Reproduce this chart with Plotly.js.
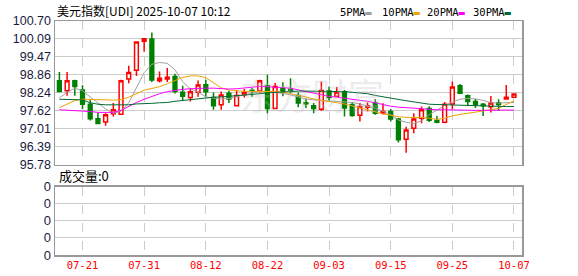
<!DOCTYPE html>
<html><head><meta charset="utf-8">
<script src="https://cdn.plot.ly/plotly-3.0.1.min.js"></script>
<style>html,body{margin:0;padding:0;background:#fff}#chart{width:578px;height:276px}</style>
</head><body><div id="chart"></div>
<script>
const dates = ["07-16","07-17","07-18","07-21","07-22","07-23","07-24","07-25","07-28","07-29","07-30","07-31",
"08-01","08-04","08-05","08-06","08-07","08-08","08-11","08-12",
"08-13","08-14","08-15","08-18","08-19","08-20","08-21","08-22",
"08-25","08-26","08-27","08-28","08-29","09-01","09-02","09-03",
"09-04","09-05","09-08","09-09","09-10","09-11","09-12","09-15",
"09-16","09-17","09-18","09-19","09-22","09-23","09-24","09-25",
"09-26","09-29","09-30","10-01","10-02","10-03","10-06","10-07"];
const openP = [98.65,98.31,98.65,98.34,97.85,97.35,97.24,97.52,97.51,98.71,99.01,100.01,100.08,98.65,98.71,98.80,98.26,98.08,98.26,98.52,
98.08,97.83,98.23,97.80,98.17,98.33,98.30,98.48,97.70,98.40,98.36,98.15,97.90,97.80,97.68,98.30,98.12,98.28,97.83,97.47,
97.75,97.89,97.55,97.60,97.34,96.65,97.03,97.37,97.70,97.29,97.23,97.86,98.48,98.14,97.94,97.85,97.76,97.90,98.03,98.09];
const highP = [98.95,98.95,98.69,98.50,98.00,97.55,97.54,97.89,98.69,99.17,100.00,100.12,100.31,98.97,99.09,98.89,98.48,98.40,98.66,98.69,
98.25,98.29,98.31,98.34,98.37,98.42,98.69,98.86,98.58,98.60,98.74,98.25,98.05,97.89,98.63,98.46,98.44,98.34,97.93,97.89,
97.91,98.02,97.88,97.69,97.38,97.08,97.54,97.77,97.78,97.45,97.93,98.63,98.54,98.18,98.04,97.89,98.13,98.02,98.51,98.21];
const lowP = [98.27,98.14,98.14,97.68,97.29,97.19,97.11,97.43,97.49,98.57,98.82,99.65,98.61,98.59,98.61,98.22,97.96,97.94,98.11,98.11,
97.66,97.66,97.89,97.77,98.08,98.11,98.22,97.54,97.68,98.12,98.22,97.75,97.72,97.54,97.62,97.98,98.10,97.43,97.42,97.26,
97.60,97.49,97.50,97.26,96.54,96.19,96.86,97.20,97.24,97.20,97.20,97.68,98.21,97.80,97.72,97.45,97.57,97.62,98.00,98.08];
const closeP = [98.29,98.65,98.46,97.85,97.35,97.19,97.49,97.66,98.65,98.94,99.98,100.09,98.68,98.74,98.77,98.29,98.12,98.28,98.51,98.28,
97.80,98.17,98.03,98.15,98.25,98.30,98.65,97.70,98.46,98.29,98.33,97.89,97.87,97.70,98.32,98.08,98.26,97.72,97.46,97.77,
97.80,97.54,97.60,97.34,96.63,96.97,97.34,97.66,97.30,97.23,97.85,98.44,98.23,97.94,97.83,97.80,97.89,97.84,98.09,98.20];
const ma5 = [98.07,98.26,98.40,98.31,98.10,97.90,97.69,97.54,97.61,97.90,98.41,98.93,99.22,99.28,99.25,99.03,98.62,98.38,98.26,98.10,
98.06,98.03,98.05,98.10,98.17,98.23,98.28,98.29,98.26,98.22,98.17,98.10,98.03,98.00,97.98,97.97,97.95,97.93,97.91,97.86,
97.79,97.71,97.61,97.49,97.31,97.23,97.19,97.28,97.49,97.66,97.81,97.93,98.02,98.05,98.03,97.98,97.90,97.89,97.90,97.91];
const ma10 = [97.73,97.86,97.98,98.02,98.02,98.02,98.00,97.99,98.00,98.09,98.22,98.33,98.39,98.45,98.55,98.67,98.77,98.82,98.82,98.76,
98.60,98.41,98.34,98.31,98.29,98.28,98.28,98.29,98.29,98.26,98.21,98.15,98.10,98.03,97.98,97.93,97.90,97.86,97.79,97.73,
97.66,97.59,97.52,97.47,97.42,97.40,97.40,97.40,97.37,97.33,97.37,97.45,97.50,97.54,97.57,97.60,97.66,97.71,97.83,97.97];
const ma20 = [97.66,97.65,97.64,97.63,97.60,97.57,97.57,97.57,97.64,97.78,97.91,98.02,98.12,98.21,98.28,98.33,98.36,98.38,98.40,98.40,
98.40,98.38,98.37,98.38,98.41,98.45,98.46,98.45,98.44,98.41,98.40,98.34,98.28,98.22,98.17,98.12,98.09,98.06,98.03,98.00,
97.95,97.90,97.83,97.78,97.75,97.73,97.70,97.68,97.67,97.66,97.66,97.65,97.65,97.64,97.64,97.64,97.65,97.65,97.65,97.65];
const ma30 = [98.02,98.01,98.00,98.00,97.90,97.85,97.83,97.83,97.82,97.83,97.86,97.86,97.88,97.90,97.91,97.95,97.98,98.00,98.03,98.07,
98.09,98.10,98.12,98.14,98.15,98.17,98.21,98.24,98.26,98.28,98.29,98.30,98.30,98.30,98.29,98.29,98.28,98.28,98.26,98.24,
98.21,98.15,98.10,98.05,98.00,97.97,97.93,97.89,97.85,97.84,97.83,97.82,97.81,97.81,97.80,97.79,97.78,97.78,97.77,97.77];
const volume = dates.map(() => 0);
const xTickDates = ["07-21","07-31","08-12","08-22","09-03","09-15","09-25","10-07"];
const priceTicks = [95.78,96.39,97.01,97.62,98.24,98.86,99.47,100.09,100.70];
const volTicks = [0,0.25,0.5,0.75,1];
const volTickText = ["0","0","0","0","0"];
const maNames = ["5PMA","10PMA","20PMA","30PMA"];
const maColors = ["#a0a0a0","#f0a000","#ff00ff","#006a34"];

const lineW = 1;
const maData = [ma5, ma10, ma20, ma30];
const traces = maData.map((arr, i) => ({type:'scatter',mode:'lines',x:dates,y:arr,name:maNames[i],
  line:{color:maColors[i],width:lineW},xaxis:'x',yaxis:'y',hoverinfo:'skip'}));
traces.push({type:'candlestick',x:dates,open:openP,high:highP,low:lowP,close:closeP,xaxis:'x',yaxis:'y',
   increasing:{line:{color:'#ff0000',width:1.5},fillcolor:'#ffffff'},
   decreasing:{line:{color:'#008000',width:1.5},fillcolor:'#008000'},
   hoverinfo:'skip'});
traces.push({type:'bar',x:dates,y:volume,xaxis:'x2',yaxis:'y2',marker:{color:'#008000'},hoverinfo:'skip'});

const axisX = {
  type:'category', range:[-0.57,60.04], tickmode:'array', tickvals:xTickDates,
  showgrid:true, gridcolor:'#cccccc', griddash:'dash', gridwidth:1,
  showline:true, mirror:true, linecolor:'#999999', linewidth:1.5,
  ticks:'', zeroline:false, fixedrange:true
};
const monoFont = '"DejaVu Sans Mono", "Liberation Mono", monospace';
const legendX = [0.606, 0.696, 0.792, 0.891];
const legendAnn = maNames.map((n, i) => ({
  text: n + '<span style="color:' + maColors[i] + '">▬</span>',
  xref:'paper', yref:'paper', x:legendX[i], xanchor:'left', y:1, yanchor:'bottom', yshift:1, showarrow:false,
  font:{family:monoFont, size:10.5, color:'#000000'}
}));
const layout = {
  width:578, height:276, paper_bgcolor:'#ffffff', plot_bgcolor:'#ffffff',
  margin:{l:55,r:56,t:21,b:21}, showlegend:false, dragmode:false,
  font:{family:'Arial, "Liberation Sans", sans-serif', size:12, color:'#1a1a40'},
  xaxis:Object.assign({}, axisX, {anchor:'y', showticklabels:false, rangeslider:{visible:false}}),
  xaxis2:Object.assign({}, axisX, {anchor:'y2', showticklabels:true, tickfont:{color:'#ff0000', size:10.5, family:monoFont}, ticklen:0}),
  yaxis:{domain:[0.386,1], range:[95.78,100.70], tickmode:'array', tickvals:priceTicks,
    ticktext:priceTicks.map(v=>v.toFixed(2)), showgrid:true, gridcolor:'#cccccc', gridwidth:1,
    showline:true, mirror:true, linecolor:'#999999', linewidth:1.5, ticks:'', zeroline:false,
    tickfont:{size:12.5, color:'#1a1a40'}, fixedrange:true},
  yaxis2:{domain:[0,0.292], range:[0,1], tickmode:'array', tickvals:volTicks, ticktext:volTickText,
    showgrid:true, gridcolor:'#cccccc', gridwidth:1, showline:true, mirror:true, linecolor:'#999999', linewidth:1.5,
    ticks:'', zeroline:false, tickfont:{size:13, color:'#1a1a40'}, fixedrange:true},
  annotations:[
    {text:'东方财富', xref:'paper', yref:'paper', x:0.55, xanchor:'center', y:0.69, yanchor:'middle', showarrow:false,
     font:{family:'"Noto Sans CJK SC", sans-serif', size:36, color:'rgba(190,190,190,0.28)'}},
    {text:'美元指数[UDI] 2025-10-07 10:12', xref:'paper', yref:'paper', x:0, xanchor:'left', y:1, yanchor:'bottom', showarrow:false,
     font:{family:'"Noto Sans CJK SC", sans-serif', size:12, color:'#000000'}},
    {text:'成交量:0', xref:'paper', yref:'paper', x:0.005, xanchor:'left', y:0.292, yanchor:'bottom', showarrow:false,
     font:{family:'"Noto Sans CJK SC", sans-serif', size:13, color:'#000000'}}
  ].concat(legendAnn)
};
Plotly.newPlot('chart', traces, layout, {staticPlot:true, displayModeBar:false});
</script></body></html>
